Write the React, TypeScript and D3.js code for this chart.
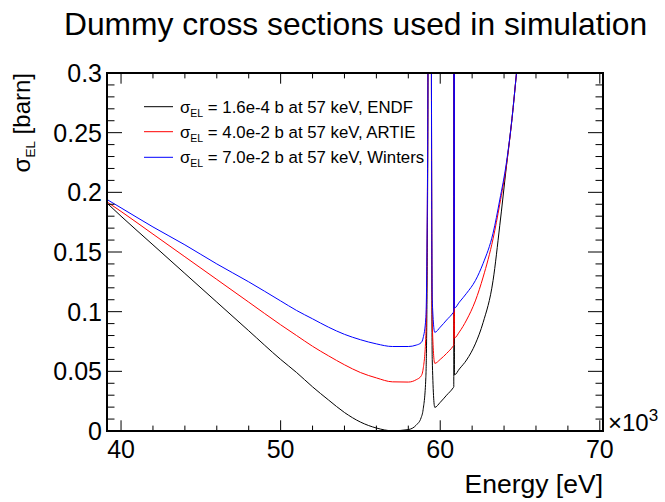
import React from "react";
import * as d3 from "d3";

// ---- data (energy in units of 10^3 eV) ----
const energies = [
  39.12, 40, 42, 44, 46, 48, 50, 51, 52, 53, 54, 55, 56, 57, 58, 58.5, 58.8, 58.93,
  59.1, 59.18, 59.24, 59.33, 59.45, 59.5, 59.66, 60.0, 60.4, 60.8, 60.85, 60.87, 60.89,
  61.2, 61.65, 62.2, 62.69, 63.31, 63.73, 64.15, 64.5, 64.78, 65.0,
];
const endfValues = [
  0.191, 0.18, 0.156, 0.132, 0.108, 0.084, 0.06, 0.049, 0.037, 0.026, 0.0155, 0.0075, 0.0025,
  0.0002, 0.0012, 0.005, 0.011, 0.018, 0.045, 0.13, 0.35, 3, 0.3, 0.06, 0.0198, 0.024, 0.03,
  0.036, 0.037, 3, 0.047, 0.052, 0.0595, 0.073, 0.091, 0.126, 0.172, 0.222, 0.262, 0.3, 0.33,
];
const artieValues = [
  0.192, 0.184, 0.165, 0.146, 0.127, 0.108, 0.089, 0.08, 0.071, 0.063, 0.0555, 0.049, 0.0445,
  0.0412, 0.041, 0.043, 0.046, 0.052, 0.08, 0.16, 0.35, 3, 0.3, 0.09, 0.0567, 0.06, 0.065,
  0.071, 0.072, 3, 0.078, 0.083, 0.093, 0.109, 0.129, 0.161, 0.19, 0.223, 0.262, 0.3, 0.33,
];
const wintersValues = [
  0.194, 0.187, 0.171, 0.156, 0.14, 0.125, 0.109, 0.101, 0.094, 0.087, 0.081, 0.0765, 0.073,
  0.0708, 0.0708, 0.072, 0.074, 0.078, 0.095, 0.17, 0.35, 3, 0.3, 0.11, 0.0827, 0.087, 0.093,
  0.099, 0.1, 3, 0.103, 0.108, 0.1154, 0.126, 0.1405, 0.1657, 0.1936, 0.225, 0.262, 0.3, 0.33,
];
const seriesNames = ["ENDF", "ARTIE", "Winters"];
const seriesValueLabels = ["1.6e-4", "4.0e-2", "7.0e-2"];
const seriesColors = ["#000000", "#ff0000", "#0000ff"];
const xMajorTicks = [40, 50, 60, 70];
const yMajorTicks = [0, 0.05, 0.1, 0.15, 0.2, 0.25, 0.3];
const yTickLabels = ["0", "0.05", "0.1", "0.15", "0.2", "0.25", "0.3"];

const W = 665;
const H = 502;
const L = 107, R = 603, T = 73, B = 431;
const FONT = "'Liberation Sans', Arial, Helvetica, sans-serif";

export default function App() {
  const x = d3.scaleLinear().domain([39.12, 70.2]).range([L, R]);
  const y = d3.scaleLinear().domain([0, 0.3]).range([B, T]);
  const line = d3
    .line<number>()
    .x((_, i) => x(energies[i]))
    .y((d) => y(d))
    .curve(d3.curveMonotoneX);
  const allSeries = [endfValues, artieValues, wintersValues];

  const xMinor = d3.range(40, 70.01, 2);
  const yMinor = d3.range(0, 0.3001, 0.01);
  const xMajLen = 10.7, xMinLen = 5.4, yMajLen = 15, yMinLen = 7.5;

  return (
    <svg width={W} height={H} style={{ position: "absolute", left: 0, top: 0, background: "#fff" }} fontFamily={FONT}>
      <defs>
        <clipPath id="plotclip">
          <rect x={L} y={T} width={R - L} height={B - T} />
        </clipPath>
      </defs>
      <rect x={0} y={0} width={W} height={H} fill="#fff" />
      {/* title */}
      <text x={355.5} y={35} textAnchor="middle" fontSize={31.8}>
        Dummy cross sections used in simulation
      </text>
      {/* curves */}
      <g clipPath="url(#plotclip)">
        {allSeries.map((vals, i) => (
          <path key={i} d={line(vals) || ""} fill="none" stroke={seriesColors[i]} strokeWidth={1} />
        ))}
      </g>
      {/* ticks */}
      <g stroke="#000" strokeWidth={1}>
        {xMinor.map((t) => {
          const major = t % 10 === 0;
          const len = major ? xMajLen : xMinLen;
          return (
            <g key={"x" + t}>
              <line x1={x(t)} x2={x(t)} y1={B} y2={B - len} />
              <line x1={x(t)} x2={x(t)} y1={T} y2={T + len} />
            </g>
          );
        })}
        {yMinor.map((t, i) => {
          const major = i % 5 === 0;
          const len = major ? yMajLen : yMinLen;
          return (
            <g key={"y" + i}>
              <line x1={L} x2={L + len} y1={y(t)} y2={y(t)} />
              <line x1={R} x2={R - len} y1={y(t)} y2={y(t)} />
            </g>
          );
        })}
      </g>
      {/* frame */}
      <rect x={L} y={T} width={R - L} height={B - T} fill="none" stroke="#000" strokeWidth={2} />
      {/* tick labels */}
      {xMajorTicks.map((t) => (
        <text key={"xl" + t} x={x(t)} y={458} textAnchor="middle" fontSize={25}>
          {t}
        </text>
      ))}
      {yMajorTicks.map((t, i) => (
        <text key={"yl" + i} x={102} y={y(t) + 9} textAnchor="end" fontSize={25}>
          {yTickLabels[i]}
        </text>
      ))}
      {/* x10^3 */}
      <text x={608} y={431} fontSize={24}>
        ×10<tspan dy={-10} fontSize={17}>3</tspan>
      </text>
      {/* axis titles */}
      <text x={R} y={493} textAnchor="end" fontSize={26.5}>
        Energy [eV]
      </text>
      <text transform={`translate(30,${T}) rotate(-90)`} textAnchor="end" fontSize={24}>
        σ<tspan dy={5} fontSize={13.5}>EL</tspan>
        <tspan dy={-5}> [barn]</tspan>
      </text>
      {/* legend */}
      {seriesNames.map((n, i) => {
        const ly = [106.7, 131.7, 157.3][i];
        return (
          <g key={"lg" + i}>
            <line x1={144} x2={173} y1={ly} y2={ly} stroke={seriesColors[i]} strokeWidth={1} />
            <text x={180} y={ly + 6} fontSize={16.8}>
              σ<tspan dy={4} fontSize={10.5}>EL</tspan>
              <tspan dy={-4}>{` = ${seriesValueLabels[i]} b at 57 keV, ${n}`}</tspan>
            </text>
          </g>
        );
      })}
    </svg>
  );
}
